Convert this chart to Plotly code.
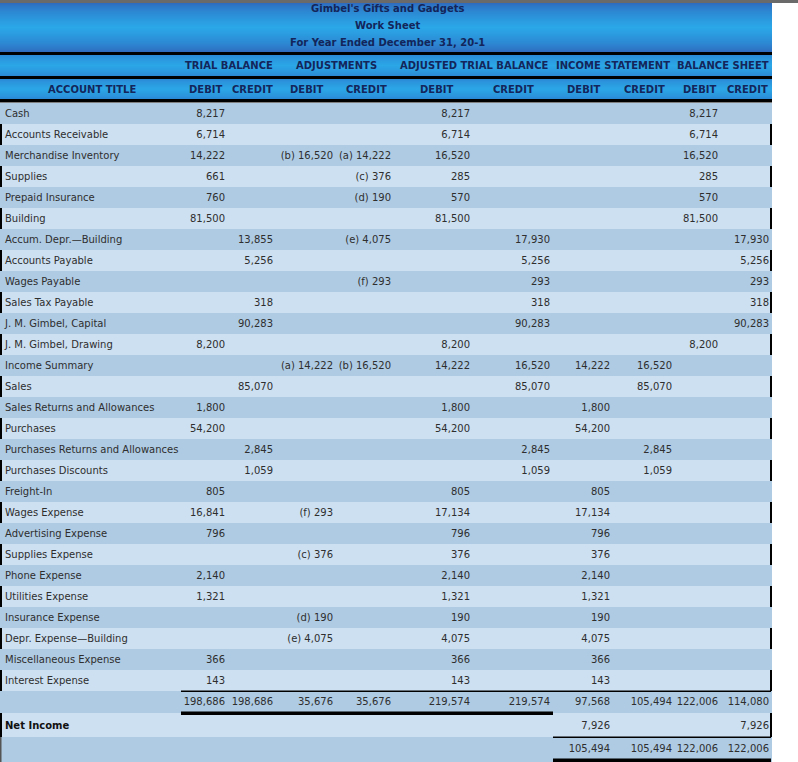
import plotly.graph_objects as go

# ---------------- data ----------------
title_lines = ["Gimbel's Gifts and Gadgets", "Work Sheet", "For Year Ended December 31, 20-1"]
group_headers = ["TRIAL BALANCE", "ADJUSTMENTS", "ADJUSTED TRIAL BALANCE", "INCOME STATEMENT", "BALANCE SHEET"]
column_headers = ["DEBIT", "CREDIT", "DEBIT", "CREDIT", "DEBIT", "CREDIT", "DEBIT", "CREDIT", "DEBIT", "CREDIT"]
account_header = "ACCOUNT TITLE"

accounts = [
    "Cash", "Accounts Receivable", "Merchandise Inventory", "Supplies", "Prepaid Insurance",
    "Building", "Accum. Depr.\u2014Building", "Accounts Payable", "Wages Payable", "Sales Tax Payable",
    "J. M. Gimbel, Capital", "J. M. Gimbel, Drawing", "Income Summary", "Sales",
    "Sales Returns and Allowances", "Purchases", "Purchases Returns and Allowances",
    "Purchases Discounts", "Freight-In", "Wages Expense", "Advertising Expense", "Supplies Expense",
    "Phone Expense", "Utilities Expense", "Insurance Expense", "Depr. Expense\u2014Building",
    "Miscellaneous Expense", "Interest Expense",
]
N = None
tb_debit = [8217, 6714, 14222, 661, 760, 81500, N, N, N, N, N, 8200, N, N,
            1800, 54200, N, N, 805, 16841, 796, N, 2140, 1321, N, N, 366, 143]
tb_credit = [N, N, N, N, N, N, 13855, 5256, N, 318, 90283, N, N, 85070,
             N, N, 2845, 1059, N, N, N, N, N, N, N, N, N, N]
adj_debit = [N, N, 16520, N, N, N, N, N, N, N, N, N, 14222, N,
             N, N, N, N, N, 293, N, 376, N, N, 190, 4075, N, N]
adj_debit_ref = [N, N, "b", N, N, N, N, N, N, N, N, N, "a", N,
                 N, N, N, N, N, "f", N, "c", N, N, "d", "e", N, N]
adj_credit = [N, N, 14222, 376, 190, N, 4075, N, 293, N, N, N, 16520, N,
              N, N, N, N, N, N, N, N, N, N, N, N, N, N]
adj_credit_ref = [N, N, "a", "c", "d", N, "e", N, "f", N, N, N, "b", N,
                  N, N, N, N, N, N, N, N, N, N, N, N, N, N]
atb_debit = [8217, 6714, 16520, 285, 570, 81500, N, N, N, N, N, 8200, 14222, N,
             1800, 54200, N, N, 805, 17134, 796, 376, 2140, 1321, 190, 4075, 366, 143]
atb_credit = [N, N, N, N, N, N, 17930, 5256, 293, 318, 90283, N, 16520, 85070,
              N, N, 2845, 1059, N, N, N, N, N, N, N, N, N, N]
is_debit = [N, N, N, N, N, N, N, N, N, N, N, N, 14222, N,
            1800, 54200, N, N, 805, 17134, 796, 376, 2140, 1321, 190, 4075, 366, 143]
is_credit = [N, N, N, N, N, N, N, N, N, N, N, N, 16520, 85070,
             N, N, 2845, 1059, N, N, N, N, N, N, N, N, N, N]
bs_debit = [8217, 6714, 16520, 285, 570, 81500, N, N, N, N, N, 8200, N, N,
            N, N, N, N, N, N, N, N, N, N, N, N, N, N]
bs_credit = [N, N, N, N, N, N, 17930, 5256, 293, 318, 90283, N, N, N,
             N, N, N, N, N, N, N, N, N, N, N, N, N, N]

column_totals = [198686, 198686, 35676, 35676, 219574, 219574, 97568, 105494, 122006, 114080]
net_income_label = "Net Income"
net_income_values = [N, N, N, N, N, N, 7926, N, N, 7926]
final_totals = [N, N, N, N, N, N, 105494, 105494, 122006, 122006]

# ---------------- layout geometry ----------------
W, H = 798, 762
TABLE_R = 772
col_right = [225, 273, 333, 391, 470, 550, 610, 672, 718, 769]
col_center = [205, 252, 306, 366, 436, 513, 583, 644, 699, 747]
group_center = [229, 336, 474, 613, 723]
BODY_TOP, ROW_H = 103, 21
DARK, LIGHT = "#afcbe3", "#cde0f1"
NAVY = "#13255a"
TXT = "#2e2e2e"
FONT = "DejaVu Sans"

shapes = []


def rect(x0, y0, x1, y1, color):
    shapes.append(dict(type="rect", xref="x", yref="y", x0=x0, y0=y0, x1=x1, y1=y1,
                       fillcolor=color, line=dict(width=0), layer="below"))


def hex2rgb(h):
    h = h.lstrip("#")
    return [int(h[i:i + 2], 16) for i in (0, 2, 4)]


def gradient(y0, y1, edge, mid, steps=None):
    e, m = hex2rgb(edge), hex2rgb(mid)
    n = steps or int(y1 - y0)
    for k in range(n):
        t = (k + 0.5) / n
        w = 1 - abs(2 * t - 1)  # 0 at edges, 1 in middle
        w = w ** 0.7
        c = [round(e[j] + (m[j] - e[j]) * w) for j in range(3)]
        ya = y0 + (y1 - y0) * k / n
        yb = y0 + (y1 - y0) * (k + 1) / n + 0.3
        rect(0, ya, TABLE_R, yb, "rgb(%d,%d,%d)" % tuple(c))


# top grey strip
rect(0, 0, W, 3, "#6a6a6a")
# title band
gradient(3, 52, "#2f68bd", "#2aa8e8")
rect(0, 52, TABLE_R, 55, "#000000")
gradient(55, 76, "#2b86d3", "#2ba6e7")
rect(0, 76, TABLE_R, 79, "#000000")
gradient(79, 99, "#2b86d3", "#2ba6e7")
rect(0, 99, TABLE_R, 102.5, "#000000")

# body rows
n = len(accounts)
row_y = []
for i in range(n):
    y0 = BODY_TOP + i * ROW_H
    rect(0, y0, TABLE_R, y0 + ROW_H, DARK if i % 2 == 0 else LIGHT)
    row_y.append(y0 + ROW_H / 2 + 0.5)
    if i % 2 == 1:
        rect(0, y0, 2, y0 + ROW_H, "#000000")
        rect(770, y0, 772, y0 + ROW_H, "#000000")

tot_y0 = BODY_TOP + n * ROW_H
rect(0, tot_y0, TABLE_R, 713, DARK)
rect(0, 713, TABLE_R, 737, LIGHT)
rect(0, 737, TABLE_R, H, DARK)
rect(0, 713, 2, 737, "#000000")
rect(770, 713, 772, 737, "#000000")
rect(0, 737, 1.5, H, "#555555")
# rule lines
rect(181, tot_y0 - 0.5, 771, tot_y0 + 1, "#000000")
rect(181, 711.5, 553, 715, "#000000")
rect(553, 736.5, 771, 738, "#000000")
rect(553, 758.5, 771, H, "#000000")

tot_y = 702
ni_y = 726
fin_y = 749

fig = go.Figure()

# account titles
fig.add_trace(go.Scatter(
    x=[5] * n, y=row_y, text=accounts, mode="text", textposition="middle right",
    textfont=dict(family=FONT, size=10, color=TXT), cliponaxis=False, hoverinfo="skip",
    showlegend=False))
fig.add_trace(go.Scatter(
    x=[5], y=[ni_y], text=["<b>" + net_income_label + "</b>"], mode="text",
    textposition="middle right", textfont=dict(family=FONT, size=10, color="#111111"),
    cliponaxis=False, hoverinfo="skip", showlegend=False))


def fmt(v):
    return f"{v:,}"


def adj_text(vals, refs):
    return [None if v is None else f"({r}) {fmt(v)}" for v, r in zip(vals, refs)]


columns = [
    [None if v is None else fmt(v) for v in tb_debit],
    [None if v is None else fmt(v) for v in tb_credit],
    adj_text(adj_debit, adj_debit_ref),
    adj_text(adj_credit, adj_credit_ref),
    [None if v is None else fmt(v) for v in atb_debit],
    [None if v is None else fmt(v) for v in atb_credit],
    [None if v is None else fmt(v) for v in is_debit],
    [None if v is None else fmt(v) for v in is_credit],
    [None if v is None else fmt(v) for v in bs_debit],
    [None if v is None else fmt(v) for v in bs_credit],
]

for c, texts in enumerate(columns):
    xs, ys, ts = [], [], []
    for i, t in enumerate(texts):
        if t is not None:
            xs.append(col_right[c]); ys.append(row_y[i]); ts.append(t)
    for extra, yy in ((column_totals[c], tot_y), (net_income_values[c], ni_y), (final_totals[c], fin_y)):
        if extra is not None:
            xs.append(col_right[c]); ys.append(yy); ts.append(fmt(extra))
    fig.add_trace(go.Scatter(
        x=xs, y=ys, text=ts, mode="text", textposition="middle left",
        textfont=dict(family=FONT, size=10, color=TXT), cliponaxis=False,
        hoverinfo="skip", showlegend=False))

annotations = []
for k, line in enumerate(title_lines):
    annotations.append(dict(x=387, y=[8, 25, 42][k], xref="x", yref="y", text="<b>" + line + "</b>",
                            showarrow=False, font=dict(family=FONT, size=10, color=NAVY),
                            xanchor="center", yanchor="middle"))
for k, g in enumerate(group_headers):
    annotations.append(dict(x=group_center[k], y=65.5, xref="x", yref="y", text="<b>" + g + "</b>",
                            showarrow=False, font=dict(family=FONT, size=10, color=NAVY),
                            xanchor="center", yanchor="middle"))
annotations.append(dict(x=92, y=89.5, xref="x", yref="y", text="<b>" + account_header + "</b>",
                        showarrow=False, font=dict(family=FONT, size=10, color=NAVY),
                        xanchor="center", yanchor="middle"))
for k, h in enumerate(column_headers):
    annotations.append(dict(x=col_center[k], y=89.5, xref="x", yref="y", text="<b>" + h + "</b>",
                            showarrow=False, font=dict(family=FONT, size=10, color=NAVY),
                            xanchor="center", yanchor="middle"))

fig.update_layout(
    width=W, height=H, margin=dict(l=0, r=0, t=0, b=0),
    paper_bgcolor="white", plot_bgcolor="white",
    xaxis=dict(range=[0, W], visible=False, fixedrange=True),
    yaxis=dict(range=[H, 0], visible=False, fixedrange=True),
    shapes=shapes, annotations=annotations, showlegend=False,
)

fig.write_html(
    "out.html",
    config={"displayModeBar": False},
    post_script="document.body.style.margin='0px';document.body.style.overflow='hidden';",
)
